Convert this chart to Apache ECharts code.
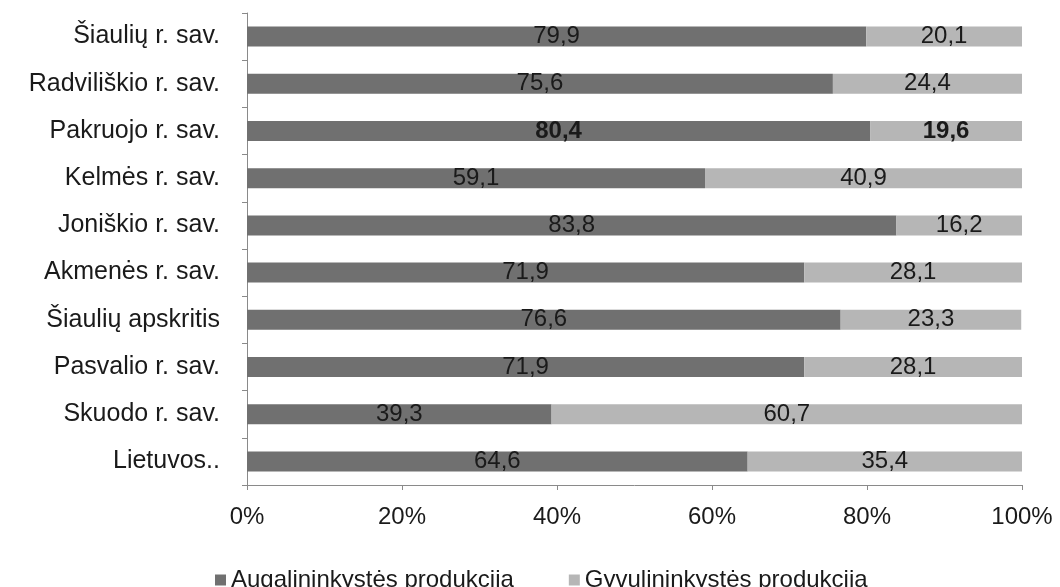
<!DOCTYPE html>
<html>
<head>
<meta charset="utf-8">
<script src="https://cdn.jsdelivr.net/npm/echarts@6/dist/echarts.min.js"></script>
<style>
html,body{margin:0;padding:0;background:#fff;}
#chart{width:1060px;height:587px;}
</style>
</head>
<body>
<div id="chart"></div>
<script>
const categories = ['Šiaulių r. sav.', 'Radviliškio r. sav.', 'Pakruojo r. sav.', 'Kelmės r. sav.', 'Joniškio r. sav.', 'Akmenės r. sav.', 'Šiaulių apskritis', 'Pasvalio r. sav.', 'Skuodo r. sav.', 'Lietuvos..'];
const augalininkyste = [79.9, 75.6, 80.4, 59.1, 83.8, 71.9, 76.6, 71.9, 39.3, 64.6];
const gyvulininkyste = [20.1, 24.4, 19.6, 40.9, 16.2, 28.1, 23.3, 28.1, 60.7, 35.4];
const seriesNames = ['Augalininkystės produkcija', 'Gyvulininkystės produkcija'];
const xTicks = [0, 20, 40, 60, 80, 100];
const boldCategory = 'Pakruojo r. sav.';

const FONT = '"Liberation Sans", Arial, sans-serif';
const fmt = v => v.toFixed(1).replace('.', ',');

function buildData(values) {
  return values.map((v, i) => {
    const item = { value: v };
    if (categories[i] === boldCategory) item.label = { fontWeight: 'bold' };
    return item;
  });
}

const chart = echarts.init(document.getElementById('chart'), null, { renderer: 'canvas' });
chart.setOption({
  animation: false,
  backgroundColor: '#ffffff',
  textStyle: { fontFamily: FONT },
  grid: { left: 247, right: 38, top: 13, bottom: 102, containLabel: false },
  legend: {
    left: 210,
    top: 563,
    itemWidth: 11,
    itemHeight: 11,
    itemGap: 55,
    icon: 'rect',
    textStyle: { fontFamily: FONT, fontSize: 24, color: '#1a1a1a' },
    data: seriesNames
  },
  xAxis: {
    type: 'value',
    min: xTicks[0],
    max: xTicks[xTicks.length - 1],
    interval: xTicks[1] - xTicks[0],
    axisLine: { show: true, lineStyle: { color: '#8a8a8a', width: 1 } },
    axisTick: { show: true, length: 5, lineStyle: { color: '#8a8a8a' } },
    splitLine: { show: false },
    axisLabel: {
      margin: 20,
      fontFamily: FONT,
      fontSize: 24,
      color: '#1a1a1a',
      formatter: v => v + '%'
    }
  },
  yAxis: {
    type: 'category',
    inverse: true,
    data: categories,
    axisLine: { show: true, lineStyle: { color: '#8a8a8a', width: 1 } },
    axisTick: { show: true, length: 5, lineStyle: { color: '#8a8a8a' } },
    axisLabel: { margin: 27, fontFamily: FONT, fontSize: 25, color: '#1a1a1a', padding: [8, 0, 0, 0] }
  },
  series: [
    {
      name: seriesNames[0],
      type: 'bar',
      stack: 'total',
      barWidth: 20,
      itemStyle: { color: '#707070' },
      label: {
        show: true,
        position: 'inside',
        fontFamily: FONT,
        fontSize: 24,
        color: '#1a1a1a',
        formatter: p => fmt(p.value)
      },
      data: buildData(augalininkyste)
    },
    {
      name: seriesNames[1],
      type: 'bar',
      stack: 'total',
      barWidth: 20,
      itemStyle: { color: '#b6b6b6' },
      label: {
        show: true,
        position: 'inside',
        fontFamily: FONT,
        fontSize: 24,
        color: '#1a1a1a',
        formatter: p => fmt(p.value)
      },
      data: buildData(gyvulininkyste)
    }
  ]
});
</script>
</body>
</html>
